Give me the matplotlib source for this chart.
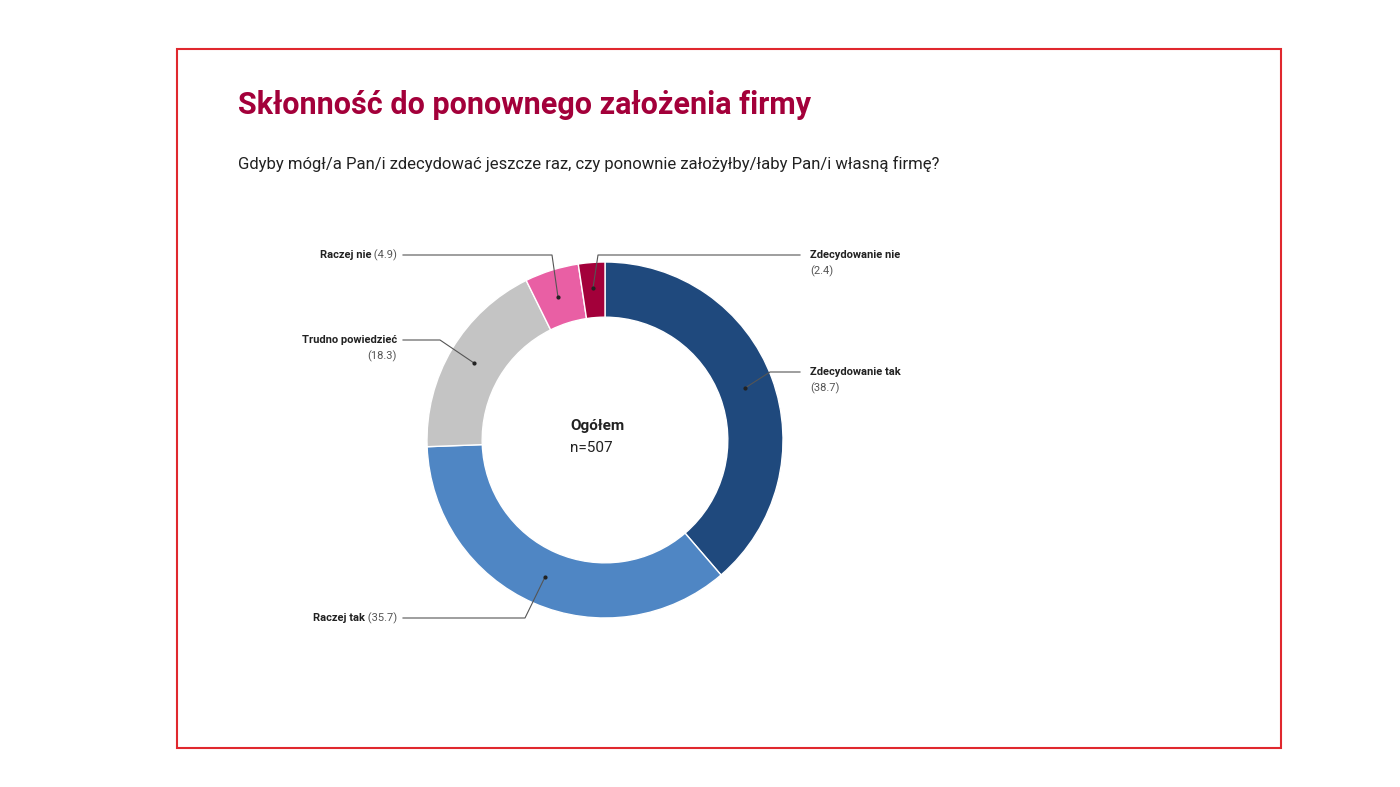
import matplotlib
matplotlib.use("Agg")
import matplotlib.pyplot as plt
from matplotlib.patches import Rectangle

plt.rcParams['font.family'] = ['Roboto', 'DejaVu Sans']

categories = ['Zdecydowanie tak', 'Raczej tak', 'Trudno powiedzieć', 'Raczej nie', 'Zdecydowanie nie']
values = [38.7, 35.7, 18.3, 4.9, 2.4]
colors = ['#1f497d', '#4f86c4', '#c4c4c4', '#e95fa4', '#a3003a']

W, H = 1400, 787
fig = plt.figure(figsize=(14, 7.87), dpi=100)
ax = fig.add_axes([0, 0, 1, 1])
ax.set_xlim(0, W)
ax.set_ylim(0, H)
ax.axis('off')

def Y(py):
    return H - py

ax.add_patch(Rectangle((177, Y(748)), 1104, 699, fill=False, edgecolor='#e0282e', lw=1.5))

ax.text(238, Y(105), 'Skłonność do ponownego założenia firmy', fontsize=22, fontweight='bold',
        color='#a3003a', va='center')
ax.text(238, Y(164), 'Gdyby mógł/a Pan/i zdecydować jeszcze raz, czy ponownie założyłby/łaby Pan/i własną firmę?',
        fontsize=12, color='#222222', va='center')

cx, cy, R = 605, Y(440), 178
ax.pie(values, colors=colors, startangle=90, counterclock=False, center=(cx, cy), radius=R,
       wedgeprops=dict(width=R * 0.31, edgecolor='white', linewidth=1), frame=True)
ax.set_xlim(0, W)
ax.set_ylim(0, H)
ax.set_aspect('equal')
ax.axis('off')

ax.text(570, Y(426), 'Ogółem', fontsize=11, fontweight='bold', color='#222', va='center')
ax.text(570, Y(448), 'n=507', fontsize=11, color='#222', va='center')

renderer = fig.canvas.get_renderer()
fs = 8

def label(x, y, name, val, ha, two_lines):
    if two_lines:
        ax.text(x, Y(y), name, fontsize=fs, fontweight='bold', color='#222', ha=ha, va='center')
        ax.text(x, Y(y + 16), '(%s)' % val, fontsize=fs, color='#555', ha=ha, va='center')
    else:
        t = ax.text(x, Y(y), ' (%s)' % val, fontsize=fs, color='#555', ha='right', va='center')
        w = t.get_window_extent(renderer).width
        ax.text(x - w, Y(y), name, fontsize=fs, fontweight='bold', color='#222', ha='right', va='center')

# (label x, label y, line points..., dot)
labels = [
    (810, 372, 'left', True, [(800, 372), (770, 372), (745, 388)]),
    (397, 618, 'right', False, [(403, 618), (525, 618), (545, 577)]),
    (397, 340, 'right', True, [(403, 340), (440, 340), (474, 363)]),
    (397, 255, 'right', False, [(403, 255), (552, 255), (558, 297)]),
    (810, 255, 'left', True, [(800, 255), (598, 255), (593, 288)]),
]
for (lx, ly, ha, two, pts), name, val in zip(labels, categories, values):
    label(lx, ly, name, val, ha, two)
    ax.plot([p[0] for p in pts], [Y(p[1]) for p in pts], color='#555', lw=0.8)
    ax.plot(pts[-1][0], Y(pts[-1][1]), 'o', color='#222', ms=2)

fig.savefig('out.png', dpi=100)
